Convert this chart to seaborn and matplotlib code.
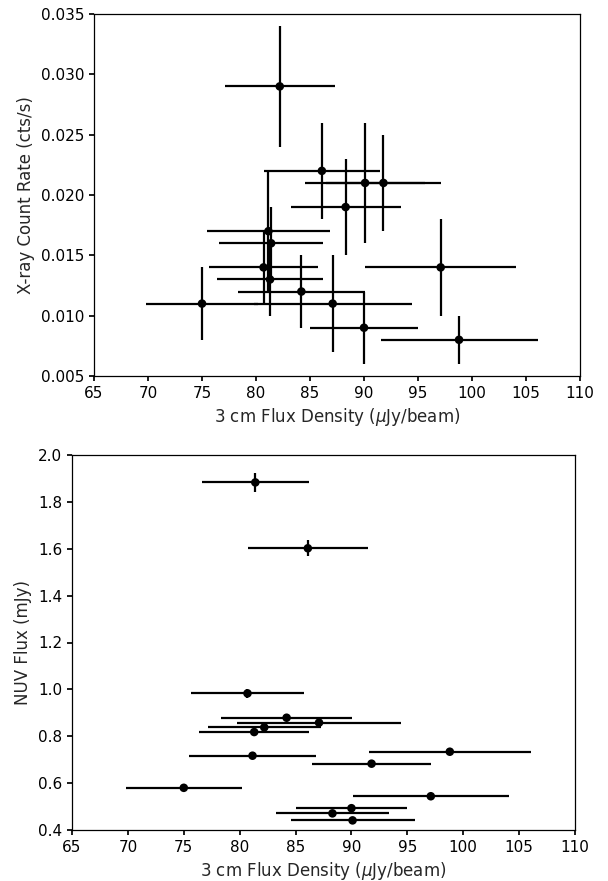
import matplotlib
matplotlib.use("Agg")
import matplotlib.pyplot as plt
import numpy as np
import pandas as pd
import seaborn as sns

# 3 cm radio flux density per source (uJy/beam) and its uncertainty
radio_flux = [82.2, 86.1, 90.1, 91.8, 88.3, 81.15, 81.4, 80.7, 81.3, 84.2,
              75.0, 90.0, 87.1, 97.1, 98.8]
radio_err = [5.07, 5.37, 5.55, 5.3, 5.08, 5.67, 4.8, 5.08, 4.9, 5.87,
             5.17, 4.97, 7.3, 7.0, 7.27]

# X-ray count rate (cts/s)
xray_rate = [0.029, 0.022, 0.021, 0.021, 0.019, 0.017, 0.016, 0.014, 0.013,
             0.012, 0.011, 0.009, 0.011, 0.014, 0.008]
xray_err = [0.005, 0.004, 0.005, 0.004, 0.004, 0.005, 0.003, 0.003, 0.003,
            0.003, 0.003, 0.003, 0.004, 0.004, 0.002]

# NUV flux (mJy)
nuv_flux = [0.838, 1.602, 0.441, 0.683, 0.471, 0.717, 1.883, 0.983, 0.818,
            0.879, 0.580, 0.493, 0.858, 0.544, 0.734]
nuv_err = [0.01, 0.035, 0.01, 0.01, 0.01, 0.015, 0.04, 0.02, 0.01,
           0.01, 0.01, 0.01, 0.01, 0.01, 0.01]

df = pd.DataFrame({
    "radio": radio_flux, "radio_err": radio_err,
    "xray": xray_rate, "xray_err": xray_err,
    "nuv": nuv_flux, "nuv_err": nuv_err,
})

sns.set_theme(style="ticks")
plt.rcParams.update({
    "font.family": ["DejaVu Sans"],
    "font.size": 11,
    "axes.labelsize": 12,
    "xtick.labelsize": 11,
    "ytick.labelsize": 11,
    "axes.edgecolor": "black",
    "axes.linewidth": 0.9,
    "xtick.color": "black",
    "ytick.color": "black",
    "xtick.major.size": 3.5,
    "ytick.major.size": 3.5,
    "mathtext.fontset": "dejavusans",
})

fig = plt.figure(figsize=(6.08, 8.81), dpi=100)
W, H = 608, 881
ax1 = fig.add_axes([94 / W, 1 - 376 / H, 486 / W, 362 / H])
ax2 = fig.add_axes([72 / W, 1 - 830 / H, 503 / W, 375 / H])


def draw_panel(ax, ycol, yerrcol):
    ax.errorbar(df["radio"], df[ycol], xerr=df["radio_err"], yerr=df[yerrcol],
                fmt="none", ecolor="black", elinewidth=1.6, capsize=0)
    sns.scatterplot(data=df, x="radio", y=ycol, ax=ax, color="black",
                    s=38, edgecolor="none", zorder=3, legend=False)
    ax.set_xlim(65, 110)
    ax.set_xticks(np.arange(65, 111, 5))
    ax.set_xlabel(r"3 cm Flux Density ($\mu$Jy/beam)")
    for side in ("top", "right", "left", "bottom"):
        ax.spines[side].set_visible(True)


draw_panel(ax1, "xray", "xray_err")
ax1.set_ylim(0.005, 0.035)
ax1.set_yticks(np.arange(0.005, 0.0351, 0.005))
ax1.set_yticklabels([f"{v:.3f}" for v in np.arange(0.005, 0.0351, 0.005)])
ax1.set_ylabel("X-ray Count Rate (cts/s)")

draw_panel(ax2, "nuv", "nuv_err")
ax2.set_ylim(0.4, 2.0)
ax2.set_yticks(np.arange(0.4, 2.01, 0.2))
ax2.set_yticklabels([f"{v:.1f}" for v in np.arange(0.4, 2.01, 0.2)])
ax2.set_ylabel("NUV Flux (mJy)")

fig.savefig("out.png", dpi=100)
